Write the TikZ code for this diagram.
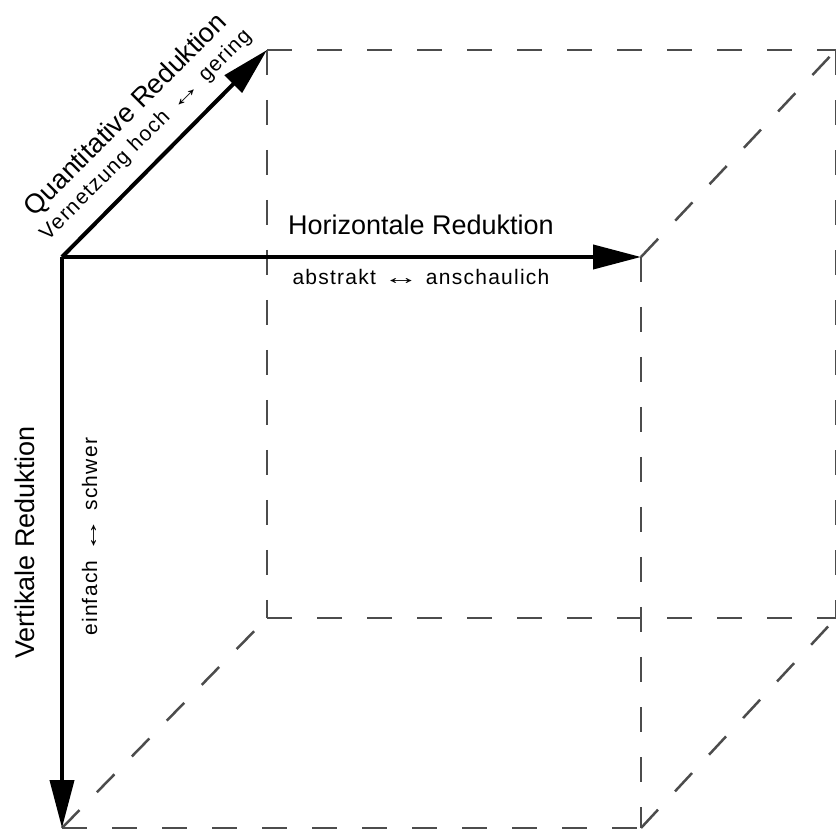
\documentclass[tikz,border=0pt]{standalone}
\usepackage{graphicx}
\usepackage{fontspec}
\setmainfont{Liberation Sans}
\newfontfamily\hintfont[LetterSpace=6]{Liberation Sans}
\usetikzlibrary{arrows.meta,positioning}

\newcommand{\twoway}{\scalebox{1.7}[1]{↔}}

\tikzset{
  axis/.style={line width=4pt, -{Triangle[length=48pt,width=24pt]}},
  hidden/.style={line width=2.5pt, black!70, dash pattern=on 25pt off 25pt},
  title/.style={font=\fontsize{27}{31}\selectfont, inner sep=0pt},
  hint/.style={font=\hintfont\fontsize{21}{25}\selectfont, inner sep=0pt},
}

\begin{document}
\begin{tikzpicture}[x=1pt,y=1pt]
\useasboundingbox (0,0) rectangle (836,831);
% cube corners
\coordinate (ftl) at (62,574);
\coordinate (ftr) at (641,574);
\coordinate (fbl) at (62,3);
\coordinate (fbr) at (641,3);
\coordinate (btl) at (267,781);
\coordinate (btr) at (836,781);
\coordinate (bbl) at (267,213);
\coordinate (bbr) at (836,213);
% hidden edges of the cube
\draw[hidden] (btl) -- (btr);
\draw[hidden] (btl) -- (bbl);
\draw[hidden] (bbl) -- (bbr);
\draw[hidden] (btr) -- (bbr);
\draw[hidden] (ftr) -- (fbr);
\draw[hidden] (fbl) -- (fbr);
\draw[hidden] (ftr) -- (btr);
\draw[hidden] (fbl) -- (bbl);
\draw[hidden] (fbr) -- (bbr);
% horizontal axis
\draw[axis] (ftl) -- (ftr)
  node[title, pos=0.62, yshift=22pt, anchor=base] (horiz) {Horizontale Reduktion}
  node[hint, pos=0.62, yshift=-28pt, anchor=base] (horizhint) {abstrakt \twoway{} anschaulich};
% vertical axis
\draw[axis] (ftl) -- (fbl)
  node[title, pos=0.5, xshift=-27pt, rotate=90, anchor=base] (vert) {Vertikale Reduktion}
  node[hint, pos=0.49, xshift=35pt, rotate=90, anchor=base] (verthint) {einfach \twoway{} schwer};
% depth axis
\draw[axis] (ftl) -- (btl)
  node[title, pos=0.5, xshift=-33pt, yshift=33pt, rotate=45, anchor=base] (quant) {Quantitative Reduktion}
  node[hint, pos=0.5, xshift=-14.5pt, yshift=14.5pt, rotate=45, anchor=base] (quanthint) {Vernetzung hoch \twoway{} gering};
\end{tikzpicture}
\end{document}
